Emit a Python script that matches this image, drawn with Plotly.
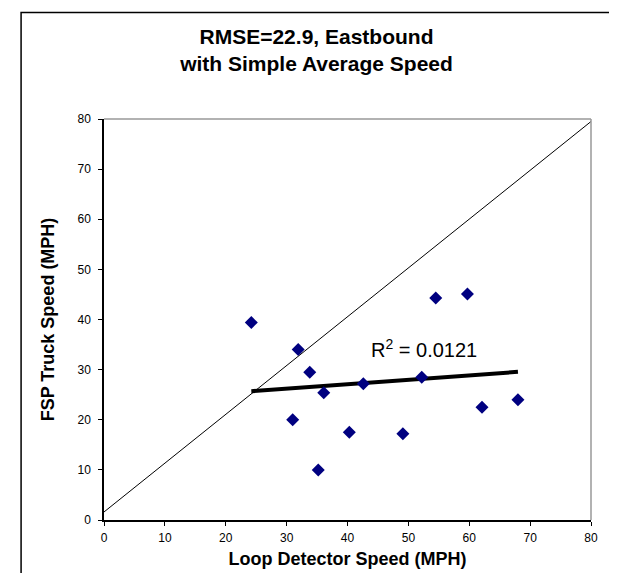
import numpy as np
import plotly.graph_objects as go

# Data
loop_speed = [24.2, 31.9, 33.8, 36.1, 31.0, 40.3, 35.2, 42.6, 52.2, 49.1, 62.1, 68.0, 54.5, 59.7]
fsp_speed = [39.4, 34.0, 29.5, 25.4, 20.0, 17.5, 10.0, 27.2, 28.5, 17.2, 22.5, 24.0, 44.3, 45.1]
diag_x = [0, 80]
diag_y = [1.6, 79.5]
tick_vals = [0, 10, 20, 30, 40, 50, 60, 70, 80]

title_text = "<b>RMSE=22.9, Eastbound<br>with Simple Average Speed</b>"
x_title = "<b>Loop Detector Speed (MPH)</b>"
y_title = "<b>FSP Truck Speed (MPH)</b>"
r2_text = "R<sup>2</sup> = 0.0121"

# linear trend line from the points
slope, intercept = np.polyfit(loop_speed, fsp_speed, 1)
trend_x = [min(loop_speed), max(loop_speed)]
trend_y = [slope * v + intercept for v in trend_x]

FONT = "Liberation Sans, Arial, sans-serif"

fig = go.Figure()
fig.add_trace(go.Scatter(x=diag_x, y=diag_y, mode="lines",
                         line=dict(color="black", width=1), hoverinfo="skip"))
fig.add_trace(go.Scatter(x=trend_x, y=trend_y, mode="lines",
                         line=dict(color="black", width=4), hoverinfo="skip"))
fig.add_trace(go.Scatter(x=loop_speed, y=fsp_speed, mode="markers",
                         marker=dict(symbol="diamond", size=10, color="#000080",
                                     line=dict(width=0))))

fig.add_annotation(x=52.5, y=34.3, xref="x", yref="y", text=r2_text, showarrow=False,
                   font=dict(family=FONT, size=20, color="black"))

W, H = 617, 573
L, R, T, B = 96, 617 - 583.5, 110.7, 573 - 512.3

fig.update_layout(
    width=W, height=H,
    margin=dict(l=L, r=R, t=T, b=B),
    paper_bgcolor="white", plot_bgcolor="white",
    showlegend=False,
    font=dict(family=FONT, color="black", size=12),
    title=dict(text=title_text, x=0.5, xanchor="center", y=1 - 36 / H, yanchor="top",
               font=dict(family=FONT, size=21, color="black")),
    xaxis=dict(range=[0, 80], tickvals=tick_vals, ticks="outside", ticklen=4,
               tickcolor="black", showline=True, linecolor="black", linewidth=1.5,
               showgrid=False, zeroline=False, tickfont=dict(size=12, color="black"),
               ticklabelstandoff=2,
               title=dict(text=x_title, font=dict(family=FONT, size=18, color="black"),
                          standoff=8)),
    yaxis=dict(range=[0, 80], tickvals=tick_vals, ticks="outside", ticklen=4,
               tickcolor="black", showline=True, linecolor="black", linewidth=1.5,
               showgrid=False, zeroline=False, tickfont=dict(size=12, color="black"),
               ticklabelstandoff=5,
               title=dict(text=y_title, font=dict(family=FONT, size=18, color="black"),
                          standoff=18)),
    shapes=[
        # gray top and right plot frame
        dict(type="line", xref="x domain", yref="y domain", x0=0, x1=1, y0=1, y1=1,
             line=dict(color="#999999", width=1.5)),
        dict(type="line", xref="x domain", yref="y domain", x0=1, x1=1, y0=0, y1=1,
             line=dict(color="#999999", width=1.5)),
        # outer chart border (bottom edge lies below the picture)
        dict(type="rect", xref="paper", yref="paper",
             x0=(13 - L) / (W - L - R), x1=(611 - L) / (W - L - R),
             y0=-(B + 20) / (H - T - B), y1=(H - 4 - B) / (H - T - B),
             line=dict(color="black", width=1.5), fillcolor="rgba(0,0,0,0)", layer="below"),
    ],
)

fig.write_html("out.html")
